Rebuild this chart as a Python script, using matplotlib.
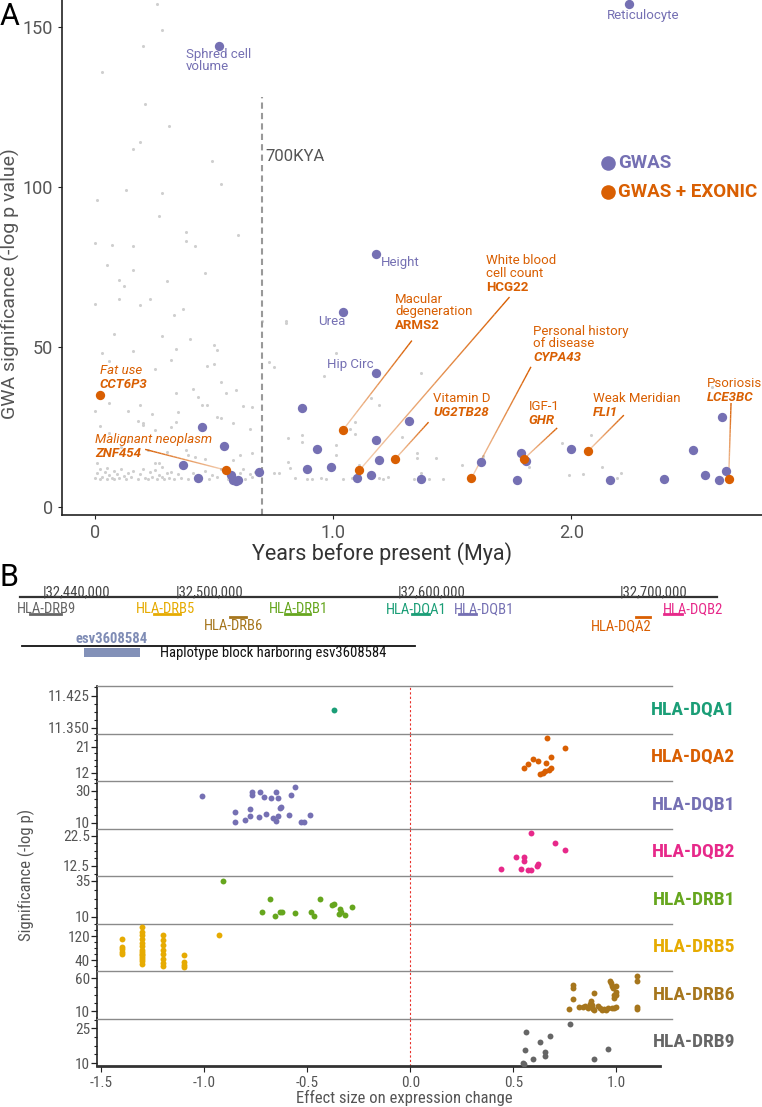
import numpy as np
import matplotlib
matplotlib.use("Agg")
import matplotlib.pyplot as plt
from matplotlib import font_manager
from matplotlib.ticker import AutoMinorLocator, FixedLocator
from matplotlib.collections import LineCollection
from matplotlib.colors import to_rgb

PURPLE = "#7570B3"
ORANGE = "#D95F02"
GREY_TXT = "#555555"

names = {f.name for f in font_manager.fontManager.ttflist}
NARROW = "Roboto"
for cand in ["Roboto Condensed", "Liberation Sans Narrow"]:
    if cand in names:
        NARROW = cand
        break
plt.rcParams["font.family"] = ["Roboto", "DejaVu Sans"]

# ---------------- panel A data ----------------
# background variants (grey)
gray_x = [0.26, 0.28, 0.20, 0.03, 0.21, 0.31, 0.19, 0.16, 0.49, 0.53, 0.13, 0.28, 0.01, 0.27, 0.38,
          0.38, 0.60, 0.00, 0.07, 0.16, 0.42, 0.05, 0.16, 0.10, 0.46, 0.12, 0.30, 0.00, 0.10, 0.19,
          0.23, 0.37, 0.33, 0.70, 0.80, 0.08, 0.28, 0.40, 0.03, 0.16, 0.34, 0.50, 0.51, 0.06, 0.32,
          0.47, 0.50, 0.73, 0.75, 0.25,
          0.06, 0.00, 0.14, 0.19, 0.24, 0.34, 0.35, 0.41, 0.43, 0.45, 0.47, 0.53, 0.55, 0.62, 0.66,
          0.59, 0.02, 0.06, 0.18, 0.20, 0.20, 0.25, 0.32, 0.34, 0.51, 0.53, 0.58, 0.65, 0.11, 0.14,
          0.22, 0.30, 0.38, 0.39, 0.42, 0.46, 0.61, 0.66, 0.58, 0.25, 0.27, 0.01,
          0.81, 0.82, 0.75, 0.77, 0.87, 0.87, 0.89, 0.91, 1.16, 1.19, 1.07, 1.09, 1.09, 1.01, 1.01,
          1.11, 1.04, 1.08, 1.19, 1.29, 1.35, 1.35, 1.43, 1.34, 1.40, 1.37, 1.46, 1.54, 1.63, 1.63,
          1.82, 1.96, 1.99, 2.05, 2.08, 2.13, 2.19, 2.21, 2.59, 1.37, 0.80, 0.96, 1.01, 0.81, 0.95,
          0.97, 1.21, 1.23, 0.84,
          0.00, 0.01, 0.02, 0.02, 0.03, 0.04, 0.05, 0.05, 0.06, 0.07, 0.08, 0.08, 0.09, 0.10, 0.11,
          0.12, 0.13, 0.14, 0.15, 0.16, 0.18, 0.19, 0.20, 0.21, 0.22, 0.23, 0.24, 0.25, 0.26, 0.27,
          0.28, 0.28, 0.29, 0.30, 0.31, 0.32, 0.33, 0.35, 0.36, 0.39, 0.41, 0.44, 0.46, 0.48, 0.49,
          0.51, 0.53, 0.56, 0.60, 0.61, 0.62, 0.63, 0.65, 0.66, 0.67]
gray_y = [157, 149, 144, 136, 126, 119, 114, 112, 108, 101, 99, 98, 96, 91, 86,
          83, 85, 82.5, 82, 81.5, 81.5, 75.6, 74, 71, 73, 69, 70.6, 63.4, 65, 63,
          65, 62, 60, 58, 57.5, 54, 53.5, 52.5, 48, 48.6, 49.5, 50.5, 49, 45.6, 46,
          44, 44.7, 45.4, 43.8, 43,
          32.5, 30, 30, 32, 29, 35.6, 29.7, 37, 34.4, 32, 32, 39, 35.6, 31.6, 31.3,
          36.6, 25.3, 23, 27, 25.6, 26.3, 24, 25, 26.6, 28, 27.8, 26.3, 24.4, 18.8, 20.6,
          17.8, 17.2, 17.8, 16.3, 15.6, 15, 16.3, 16.9, 14.7, 13.8, 13.8, 13.8,
          14, 12.2, 10.6, 10.5, 22.5, 20.4, 8.7, 8.7, 34, 32, 24.4, 26.6, 22.8, 19.4, 16.3,
          13, 8.7, 9, 9, 21.8, 16.9, 15.3, 15.3, 8.7, 8.7, 10.6, 8.7, 13, 16, 15,
          12.5, 20, 10, 10.3, 22.5, 12.5, 9, 10.6, 37.5, 42, 58, 41, 48, 21.6, 9,
          8.6, 8.8, 9.5, 9.1,
          9.0, 10.5, 8.6, 11.8, 9.4, 10.9, 8.8, 12.3, 10.0, 9.2, 11.4, 8.7, 10.3, 9.0, 11.9,
          9.6, 8.8, 10.6, 9.3, 11.1, 8.9, 10.2, 12.0, 9.1, 8.6, 10.8, 9.5, 11.6, 8.9, 10.1,
          9.3, 12.4, 8.7, 10.6, 9.2, 11.0, 8.9, 10.4, 9.1, 8.8, 10.7, 9.0, 11.3, 8.6, 10.0,
          9.4, 11.8, 8.8, 9.0, 10.5, 11.9, 8.7, 10.2, 9.3, 11.0]

# GWAS hits (purple)
gwas_x = [0.52, 2.24, 1.18, 1.04, 1.18, 0.45, 0.54, 0.37, 0.43, 0.57, 0.58, 0.59, 0.60, 0.69,
          0.87, 0.89, 0.93, 0.99, 1.10, 1.16, 1.18, 1.19, 1.32, 1.37, 1.62, 1.79, 1.81, 1.77,
          2.00, 2.16, 2.39, 2.51, 2.63, 2.56, 2.65, 2.62]
gwas_y = [144, 157, 79, 61, 42, 25, 19, 13, 9, 10, 8.5, 8.0, 8.5, 11,
          31, 12, 18, 12.5, 9, 10, 21, 14.7, 27, 8.7, 14, 17, 14.4, 8.5,
          18, 8.5, 8.7, 17.8, 28, 10, 11.3, 8.4]
gwas_lab = ["Sphred cell\nvolume", "Reticulocyte", "Height", "Urea", "Hip Circ"]
gwas_lab_x = [0.38, 2.30, 1.20, 0.995, 1.17]
gwas_lab_y = [143.5, 155.5, 76.5, 57.8, 44.4]

# GWAS + exonic hits (orange)
exon_x = [0.02, 0.55, 1.04, 1.11, 1.26, 1.58, 1.80, 2.07, 2.66]
exon_y = [35, 11.5, 24, 11.5, 15, 9, 15, 17.5, 8.7]
exon_trait = ["Fat use", "Malignant neoplasm", "Macular\ndegeneration", "White blood\ncell count",
              "Vitamin D", "Personal history\nof disease", "IGF-1", "Weak Meridian", "Psoriosis"]
exon_gene = ["CCT6P3", "ZNF454", "ARMS2", "HCG22", "UG2TB28", "CYPA43", "GHR", "FLI1", "LCE3BC"]
exon_gene_italic = [True, True, False, False, True, True, True, True, True]
exon_trait_italic = [True, True, False, False, False, False, False, False, False]
exon_lab_x = [0.02, 0.00, 1.26, 1.64, 1.42, 1.84, 1.82, 2.09, 2.57]
exon_lab_y = [40.6, 19.0, 59.0, 71.0, 32.0, 49.0, 29.4, 32.0, 36.6]
exon_seg_x = [None, 0.21, 1.33, 1.74, 1.40, 1.83, 1.94, 2.22, 2.67]
exon_seg_y = [None, 18.0, 52.0, 65.6, 26.5, 43.8, 24.7, 28.7, 32.5]

# ---------------- panel B data ----------------
ticks_kb = [32440, 32500, 32600, 32700]
gene_names = ["HLA-DRB9", "HLA-DRB5", "HLA-DRB6", "HLA-DRB1", "HLA-DQA1", "HLA-DQB1", "HLA-DQA2", "HLA-DQB2"]
gene_start = [32434.4, 32490.2, 32524.4, 32549.2, 32606.3, 32627.3, 32707.1, 32719.7]
gene_end = [32448.3, 32502.0, 32531.6, 32560.4, 32613.9, 32634.9, 32713.5, 32727.8]
gene_lab_kb = [32441.8, 32495.6, 32526.2, 32555.2, 32608.3, 32638.9, 32700.6, 32733.0]
gene_row = [1, 1, 2, 1, 1, 1, 2, 1]
gene_col = ["#666666", "#E6AB02", "#A6761D", "#66A61E", "#1B9E77", "#7570B3", "#D95F02", "#E7298A"]
esv_kb = [32458.7, 32484.0]
block_kb = [32430.9, 32607.7]
axis_kb = [32430.0, 32743.6]

facet_names = ["HLA-DQA1", "HLA-DQA2", "HLA-DQB1", "HLA-DQB2", "HLA-DRB1", "HLA-DRB5", "HLA-DRB6", "HLA-DRB9"]
facet_col = ["#1B9E77", "#D95F02", "#7570B3", "#E7298A", "#66A61E", "#E6AB02", "#A6761D", "#666666"]

dqa1_x = [-0.37]
dqa1_y = [11.392]
dqa2_x = [0.665, 0.75, 0.685, 0.595, 0.62, 0.57, 0.66, 0.55, 0.685, 0.675, 0.655, 0.63, 0.645]
dqa2_y = [23.8, 20.4, 17.5, 16.8, 16.0, 15.1, 15.4, 13.5, 13.5, 12.9, 12.6, 11.7, 12.0]
dqb1_x = [-1.01, -0.85, -0.85, -0.78, -0.78, -0.80, -0.77, -0.77, -0.73, -0.735, -0.71, -0.70, -0.675,
          -0.65, -0.64, -0.63, -0.625, -0.665, -0.65, -0.64, -0.58, -0.56, -0.59, -0.53, -0.515, -0.485]
dqb1_y = [26.5, 16.7, 10.4, 18.75, 14.2, 11.7, 27.7, 29.4, 29.4, 13.5, 26.25, 15.6, 25.2,
          29.4, 25.6, 19.4, 20.0, 12.9, 10.8, 14.2, 27.7, 32.5, 14.8, 10.6, 10.6, 14.6]
dqb2_x = [0.585, 0.70, 0.75, 0.515, 0.55, 0.55, 0.62, 0.615, 0.44, 0.535, 0.57, 0.585]
dqb2_y = [23.3, 20.0, 17.7, 15.5, 15.5, 14.2, 13.3, 12.5, 11.4, 11.4, 11.2, 11.2]
drb1_x = [-0.91, -0.68, -0.44, -0.37, -0.285, -0.34, -0.72, -0.63, -0.62, -0.655, -0.56, -0.48,
          -0.465, -0.345, -0.315, -0.38, -0.335]
drb1_y = [34.8, 22.4, 22.4, 18.6, 17.0, 15.6, 13.6, 13.6, 13.3, 10.7, 12.5, 13.0,
          10.7, 12.0, 11.3, 18.0, 13.5]
drb5_x = [-1.4, -1.4, -1.4, -1.4, -1.4,
          -1.3, -1.3, -1.3, -1.3, -1.3, -1.3, -1.3, -1.3, -1.3, -1.3, -1.3, -1.3, -1.3, -1.3,
          -1.2, -1.2, -1.2, -1.2, -1.2, -1.2, -1.2, -1.2,
          -1.1, -1.1, -1.1, -1.1, -0.93]
drb5_y = [112, 85, 78, 69, 63,
          150, 136, 124, 112, 99, 87, 75, 63, 51, 39, 27, 45, 57, 69,
          126, 108, 90, 75, 61, 45, 33, 23,
          57, 35, 26, 18, 126]
drb6_x = [0.77, 0.79, 0.79, 0.79, 0.84, 0.85, 0.86, 0.875, 0.88, 0.885, 0.89, 0.89, 0.91, 0.92,
          0.93, 0.96, 0.98, 0.99, 0.97, 0.975, 0.98, 0.985, 0.99, 0.99, 1.0, 1.0, 1.0, 1.0,
          1.10, 1.10, 1.10, 1.10, 0.82, 0.87, 0.94, 0.95]
drb6_y = [13.5, 50.3, 45.4, 28.4, 16.5, 17.5, 14.5, 26.0, 20.0, 13.0, 37.5, 11.5, 19.0, 15.0,
          12.5, 15.5, 15.5, 15.5, 55.6, 53.6, 48.7, 44.8, 35.0, 30.0, 48.0, 40.0, 35.0, 17.0,
          64.0, 55.6, 17.0, 13.6, 16.0, 22.0, 14.0, 12.0]
drb9_x = [0.775, 0.56, 0.68, 0.63, 0.555, 0.96, 0.89, 0.655, 0.655, 0.595, 0.545, 0.55]
drb9_y = [27.1, 23.4, 21.8, 18.9, 15.8, 16.2, 11.6, 14.7, 13.1, 11.9, 10.2, 9.5]

facet_x = [dqa1_x, dqa2_x, dqb1_x, dqb2_x, drb1_x, drb5_x, drb6_x, drb9_x]
facet_y = [dqa1_y, dqa2_y, dqb1_y, dqb2_y, drb1_y, drb5_y, drb6_y, drb9_y]
facet_ticks = [[11.35, 11.425], [12, 21], [10, 30], [12.5, 22.5], [10, 35], [40, 120], [10, 60], [10, 25]]
facet_ticklab = [["11.350", "11.425"], ["12", "21"], ["10", "30"], ["12.5", "22.5"],
                 ["10", "35"], ["40", "120"], ["10", "60"], ["10", "25"]]
facet_ylim = [(11.337, 11.447), (9.2, 25.5), (6.25, 36.25), (9.2, 24.8), (5.3, 38.4),
              (5, 163), (-0.7, 71.3), (8.7, 29.3)]


def fade_line(ax, x0, y0, x1, y1, color):
    t = np.linspace(0, 1, 21)
    xs = x0 + (x1 - x0) * t
    ys = y0 + (y1 - y0) * t
    pts = np.column_stack([xs, ys])
    segs = np.stack([pts[:-1], pts[1:]], axis=1)
    r, g, b = to_rgb(color)
    cols = [(r, g, b, a) for a in np.linspace(1.0, 0.3, 20)]
    ax.add_collection(LineCollection(segs, colors=cols, linewidths=1.0))


W, H = 762, 1107
fig = plt.figure(figsize=(W / 100, H / 100), dpi=100)

# ================= Panel A =================
ax = fig.add_axes([62 / W, 1 - 515 / H, (W - 62) / W, 515 / H])
ax.set_xlim(-0.139, 2.80)
ax.set_ylim(-2.5, 158.4)
ax.scatter(gray_x, gray_y, s=5, color="#cfcfcf", linewidths=0, zorder=1)
ax.axvline(0.7, ymax=(128 + 2.5) / (158.4 + 2.5), color="#999999", ls=(0, (3, 2)), lw=1.5, zorder=2)
ax.text(0.715, 109.4, "700KYA", color=GREY_TXT, fontsize=12, va="center", ha="left")
ax.scatter(gwas_x, gwas_y, s=45, color=PURPLE, linewidths=0, zorder=3)
ax.scatter(exon_x, exon_y, s=45, color=ORANGE, linewidths=0, zorder=4)

for lab, lx, ly in zip(gwas_lab, gwas_lab_x, gwas_lab_y):
    if lab.startswith("Sphred"):
        ax.text(lx, ly, lab, color=PURPLE, fontsize=9.5, ha="left", va="top", linespacing=0.95)
    elif lab == "Reticulocyte":
        ax.text(lx, ly, lab, color=PURPLE, fontsize=9.5, ha="center", va="top")
    elif lab == "Hip Circ":
        ax.text(lx, ly, lab, color=PURPLE, fontsize=9.5, ha="right", va="center")
    elif lab == "Urea":
        ax.text(lx, ly, lab, color=PURPLE, fontsize=9.5, ha="center", va="center")
    else:
        ax.text(lx, ly, lab, color=PURPLE, fontsize=9.5, ha="left", va="center")

for i in range(len(exon_x)):
    ax.text(exon_lab_x[i], exon_lab_y[i], exon_trait[i], color=ORANGE, fontsize=9.5,
            ha="left", va="bottom", linespacing=0.95,
            style="italic" if exon_trait_italic[i] else "normal")
    ax.text(exon_lab_x[i], exon_lab_y[i] - 0.3, exon_gene[i], color=ORANGE, fontsize=9.5,
            ha="left", va="top", fontweight="bold",
            style="italic" if exon_gene_italic[i] else "normal")
    if exon_seg_x[i] is not None:
        fade_line(ax, exon_seg_x[i], exon_seg_y[i], exon_x[i], exon_y[i], ORANGE)

# legend
ax.scatter([2.155], [107.5], s=110, color=PURPLE, linewidths=0, clip_on=False)
ax.scatter([2.155], [98.4], s=110, color=ORANGE, linewidths=0, clip_on=False)
ax.text(2.195, 107.5, "GWAS", color=PURPLE, fontsize=13.5, fontweight="bold", va="center")
ax.text(2.195, 98.4, "GWAS + EXONIC", color=ORANGE, fontsize=13.5, fontweight="bold", va="center")

for s in ["top", "right"]:
    ax.spines[s].set_visible(False)
for s in ["left", "bottom"]:
    ax.spines[s].set_color("#222222")
    ax.spines[s].set_linewidth(1.2)
ax.set_xticks([0, 1.0, 2.0])
ax.set_xticklabels(["0", "1.0", "2.0"])
ax.set_yticks([0, 50, 100, 150])
ax.tick_params(colors=GREY_TXT, labelsize=13, length=3, width=0.8)
ax.tick_params(axis="both", color="#222222")
ax.set_xlabel("Years before present (Mya)", fontsize=15.5, color="#333333")
ax.xaxis.set_label_coords((382 - 62) / 700, -0.052)
ax.set_ylabel("GWA significance (-log p value)", fontsize=14, color=GREY_TXT)
ax.yaxis.set_label_coords(-0.06, 0.45)

fig.text(0.0, 1 - 2 / H, "A", fontsize=22, va="top", ha="left")
fig.text(0.0, 1 - 563 / H, "B", fontsize=22, va="top", ha="left")

# ================= Panel B: gene track =================
tk = fig.add_axes([0, 1 - 662 / H, 1, 80 / H])
tk.set_xlim(32420.9, 32763.8)
tk.set_ylim(80, 0)
tk.axis("off")
for t in ticks_kb:
    tk.text(t, 10, "|" + f"{t * 1000:,}", fontsize=10.5, color="#444444", ha="left", va="center",
            family=NARROW)
tk.plot(axis_kb, [15, 15], color="#333333", lw=1.6)
for nm, s0, s1, lk, row, c in zip(gene_names, gene_start, gene_end, gene_lab_kb, gene_row, gene_col):
    if row == 1:
        tk.text(lk, 27, nm, color=c, fontsize=10.5, ha="center", va="center", family=NARROW)
        tk.plot([s0, s1], [32, 32], color=c, lw=2)
    else:
        tk.text(lk, 44, nm, color=c, fontsize=10.5, ha="center", va="center", family=NARROW)
        tk.plot([s0, s1], [35, 35], color=c, lw=2)
tk.text(32455.1, 57, "esv3608584", color="#7F8CB5", fontsize=10.5, fontweight="bold",
        ha="left", va="center", family=NARROW)
tk.plot(block_kb, [64, 64], color="#111111", lw=1.3)
tk.fill_between(esv_kb, 66, 75, color="#8391B8", lw=0)
tk.text(32492.9, 71, "Haplotype block harboring esv3608584", color="#111111", fontsize=10.5,
        ha="left", va="center", family=NARROW)

# ================= Panel B: facets =================
fh = 47.5
for i, nm in enumerate(facet_names):
    top_px = 686 + i * fh
    fa = fig.add_axes([97 / W, 1 - (top_px + fh) / H, 575 / W, fh / H])
    fa.set_xlim(-1.52, 1.27)
    fa.set_ylim(*facet_ylim[i])
    fa.axvline(0, color="#E8302A", ls=(0, (2, 2)), lw=0.8, zorder=1)
    fa.scatter(facet_x[i], facet_y[i], s=18, color=facet_col[i], linewidths=0, zorder=3)
    fa.yaxis.set_major_locator(FixedLocator(facet_ticks[i]))
    fa.set_yticklabels(facet_ticklab[i])
    fa.yaxis.set_minor_locator(AutoMinorLocator(4))
    fa.tick_params(axis="y", which="major", length=4, width=0.9, color="#222222",
                   labelsize=11, labelcolor=GREY_TXT, pad=1)
    fa.tick_params(axis="y", which="minor", length=2, width=0.8, color="#222222")
    for lab in fa.get_yticklabels():
        lab.set_family(NARROW)
    fa.spines["right"].set_visible(False)
    fa.spines["top"].set_color("#8a8a8a")
    fa.spines["top"].set_linewidth(1.0)
    fa.spines["left"].set_color("#222222")
    fa.spines["left"].set_linewidth(1.2)
    fa.text((735 - 97) / 575, 0.5, nm, transform=fa.transAxes, color=facet_col[i],
            fontsize=14, fontweight="bold", ha="right", va="center", family=NARROW)
    if i < len(facet_names) - 1:
        fa.spines["bottom"].set_visible(False)
        fa.set_xticks([])
    else:
        fa.spines["bottom"].set_color("#333333")
        fa.spines["bottom"].set_linewidth(2)
        fa.spines["bottom"].set_bounds(-1.52, 1.21)
        fa.set_xticks([-1.5, -1.0, -0.5, 0.0, 0.5, 1.0])
        fa.set_xticklabels(["-1.5", "-1.0", "-0.5", "0.0", "0.5", "1.0"])
        fa.tick_params(axis="x", length=4, color="#222222", labelsize=11, labelcolor=GREY_TXT)
        for lab in fa.get_xticklabels():
            lab.set_family(NARROW)

fig.text(26 / W, 1 - 875 / H, "Significance (-log p)", rotation=90, fontsize=12,
         color=GREY_TXT, ha="center", va="center", family=NARROW)
fig.text(404 / W, 1 - 1098 / H, "Effect size on expression change", fontsize=12,
         color=GREY_TXT, ha="center", va="center", family=NARROW)

fig.savefig("out.png", dpi=100)
